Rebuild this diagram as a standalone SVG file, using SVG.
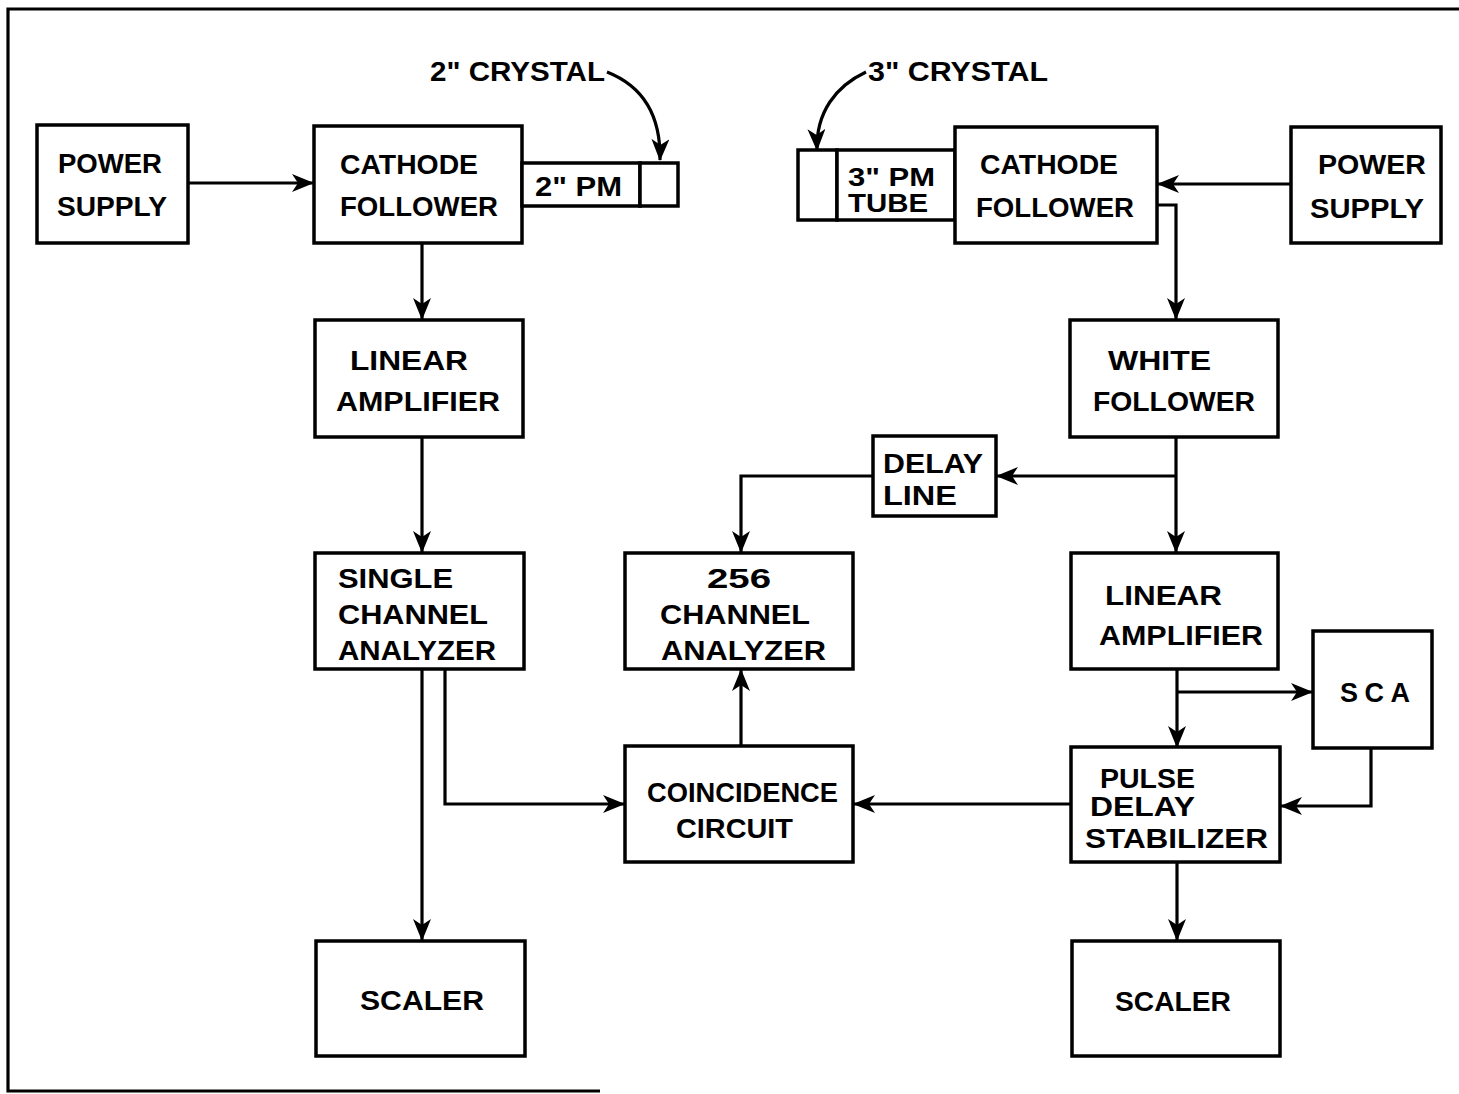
<svg xmlns="http://www.w3.org/2000/svg" width="1459" height="1094" viewBox="0 0 1459 1094">
<style>
.box{fill:#fff;stroke:#000;stroke-width:3.5}
.ln{fill:none;stroke:#000;stroke-width:3.2}
text{font-family:"Liberation Sans",Arial,sans-serif;font-weight:bold;font-size:27px;fill:#000}
.sm{font-size:25px}
</style>
<defs>
<marker id="ah" viewBox="0 0 22 18" refX="21" refY="9" markerWidth="22" markerHeight="18" markerUnits="userSpaceOnUse" orient="auto">
<path d="M0,0 L22,9 L0,18 L6,9 Z" fill="#000"/>
</marker>
</defs>
<rect width="1459" height="1094" fill="#fff"/>
<path class="ln" d="M1459,9 H8 V1091 H600"/>

<g id="connectors">
<path class="ln" d="M188,183 H313" marker-end="url(#ah)"/>
<path class="ln" d="M422,243 V319" marker-end="url(#ah)"/>
<path class="ln" d="M422,437 V552" marker-end="url(#ah)"/>
<path class="ln" d="M422,669 V940" marker-end="url(#ah)"/>
<path class="ln" d="M445,669 V804 H624" marker-end="url(#ah)"/>
<path class="ln" d="M741,746 V670" marker-end="url(#ah)"/>
<path class="ln" d="M1071,804 H854" marker-end="url(#ah)"/>
<path class="ln" d="M1291,184 H1158" marker-end="url(#ah)"/>
<path class="ln" d="M1157,205 H1176 V319" marker-end="url(#ah)"/>
<path class="ln" d="M1176,437 V552" marker-end="url(#ah)"/>
<path class="ln" d="M1176,476 H997" marker-end="url(#ah)"/>
<path class="ln" d="M873,476 H741 V552" marker-end="url(#ah)"/>
<path class="ln" d="M1177,669 V747" marker-end="url(#ah)"/>
<path class="ln" d="M1177,692 H1312" marker-end="url(#ah)"/>
<path class="ln" d="M1371,748 V806 H1281" marker-end="url(#ah)"/>
<path class="ln" d="M1177,862 V940" marker-end="url(#ah)"/>
<path class="ln" d="M607,72 C640,85 661,112 660,160" marker-end="url(#ah)"/>
<path class="ln" d="M866,72 C836,86 816,112 817,150" marker-end="url(#ah)"/>
</g>

<g id="label-2in-crystal"><text x="430" y="81" textLength="175" lengthAdjust="spacingAndGlyphs">2" CRYSTAL</text></g>
<g id="label-3in-crystal"><text x="868" y="81" textLength="180" lengthAdjust="spacingAndGlyphs">3" CRYSTAL</text></g>

<g id="power-supply-left"><rect class="box" x="37" y="125" width="151" height="118"/>
<text x="58" y="173" textLength="104" lengthAdjust="spacingAndGlyphs">POWER</text>
<text x="57" y="216" textLength="110" lengthAdjust="spacingAndGlyphs">SUPPLY</text></g>

<g id="cathode-follower-left"><rect class="box" x="314" y="126" width="208" height="117"/>
<text x="340" y="174" textLength="138" lengthAdjust="spacingAndGlyphs">CATHODE</text>
<text x="340" y="216" textLength="158" lengthAdjust="spacingAndGlyphs">FOLLOWER</text></g>

<g id="pm-tube-2in"><rect class="box" x="522" y="163" width="118" height="43"/>
<text x="535" y="196" textLength="87" lengthAdjust="spacingAndGlyphs">2" PM</text></g>
<g id="crystal-2in"><rect class="box" x="640" y="163" width="38" height="43"/></g>

<g id="linear-amplifier-left"><rect class="box" x="315" y="320" width="208" height="117"/>
<text x="350" y="370" textLength="118" lengthAdjust="spacingAndGlyphs">LINEAR</text>
<text x="336" y="411" textLength="164" lengthAdjust="spacingAndGlyphs">AMPLIFIER</text></g>

<g id="single-channel-analyzer"><rect class="box" x="315" y="553" width="209" height="116"/>
<text x="338" y="588" textLength="115" lengthAdjust="spacingAndGlyphs">SINGLE</text>
<text x="338" y="624" textLength="150" lengthAdjust="spacingAndGlyphs">CHANNEL</text>
<text x="338" y="660" textLength="158" lengthAdjust="spacingAndGlyphs">ANALYZER</text></g>

<g id="scaler-left"><rect class="box" x="316" y="941" width="209" height="115"/>
<text x="360" y="1010" textLength="124" lengthAdjust="spacingAndGlyphs">SCALER</text></g>

<g id="channel-analyzer-256"><rect class="box" x="625" y="553" width="228" height="116"/>
<text x="707" y="588" textLength="64" lengthAdjust="spacingAndGlyphs">256</text>
<text x="660" y="624" textLength="150" lengthAdjust="spacingAndGlyphs">CHANNEL</text>
<text x="661" y="660" textLength="165" lengthAdjust="spacingAndGlyphs">ANALYZER</text></g>

<g id="coincidence-circuit"><rect class="box" x="625" y="746" width="228" height="116"/>
<text x="647" y="802" textLength="191" lengthAdjust="spacingAndGlyphs">COINCIDENCE</text>
<text x="676" y="838" textLength="117" lengthAdjust="spacingAndGlyphs">CIRCUIT</text></g>

<g id="delay-line"><rect class="box" x="873" y="436" width="123" height="80"/>
<text x="883" y="473" textLength="100" lengthAdjust="spacingAndGlyphs">DELAY</text>
<text x="883" y="505" textLength="74" lengthAdjust="spacingAndGlyphs">LINE</text></g>

<g id="crystal-3in"><rect class="box" x="798" y="150" width="39" height="70"/></g>
<g id="pm-tube-3in"><rect class="box" x="837" y="150" width="118" height="70"/>
<text class="sm" x="848" y="186" textLength="87" lengthAdjust="spacingAndGlyphs">3" PM</text>
<text class="sm" x="848" y="212" textLength="80" lengthAdjust="spacingAndGlyphs">TUBE</text></g>

<g id="cathode-follower-right"><rect class="box" x="955" y="127" width="202" height="116"/>
<text x="980" y="174" textLength="138" lengthAdjust="spacingAndGlyphs">CATHODE</text>
<text x="976" y="217" textLength="158" lengthAdjust="spacingAndGlyphs">FOLLOWER</text></g>

<g id="power-supply-right"><rect class="box" x="1291" y="127" width="150" height="116"/>
<text x="1318" y="174" textLength="108" lengthAdjust="spacingAndGlyphs">POWER</text>
<text x="1310" y="218" textLength="114" lengthAdjust="spacingAndGlyphs">SUPPLY</text></g>

<g id="white-follower"><rect class="box" x="1070" y="320" width="208" height="117"/>
<text x="1108" y="370" textLength="103" lengthAdjust="spacingAndGlyphs">WHITE</text>
<text x="1093" y="411" textLength="162" lengthAdjust="spacingAndGlyphs">FOLLOWER</text></g>

<g id="linear-amplifier-right"><rect class="box" x="1071" y="553" width="207" height="116"/>
<text x="1105" y="605" textLength="117" lengthAdjust="spacingAndGlyphs">LINEAR</text>
<text x="1099" y="645" textLength="164" lengthAdjust="spacingAndGlyphs">AMPLIFIER</text></g>

<g id="sca"><rect class="box" x="1313" y="631" width="119" height="117"/>
<text x="1340" y="702" textLength="70" lengthAdjust="spacing">SCA</text></g>

<g id="pulse-delay-stabilizer"><rect class="box" x="1071" y="747" width="209" height="115"/>
<text x="1100" y="788" textLength="95" lengthAdjust="spacingAndGlyphs">PULSE</text>
<text x="1090" y="816" textLength="105" lengthAdjust="spacingAndGlyphs">DELAY</text>
<text x="1085" y="848" textLength="183" lengthAdjust="spacingAndGlyphs">STABILIZER</text></g>

<g id="scaler-right"><rect class="box" x="1072" y="941" width="208" height="115"/>
<text x="1115" y="1011" textLength="116" lengthAdjust="spacingAndGlyphs">SCALER</text></g>
</svg>
